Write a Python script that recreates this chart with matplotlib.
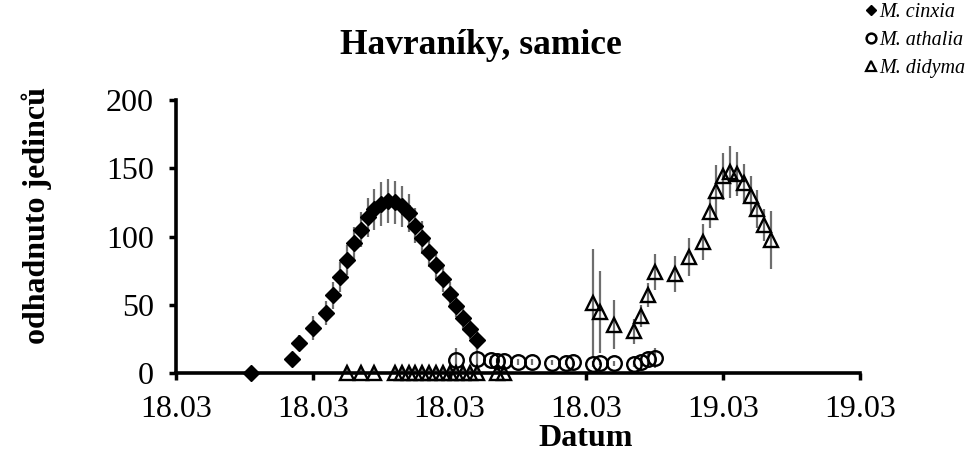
import matplotlib
matplotlib.use('Agg')
import matplotlib.pyplot as plt
from matplotlib.lines import Line2D

plt.rcParams['font.family'] = ['Liberation Serif', 'DejaVu Serif']

# days counted from the left end of the axis (one tick every 20 days)
cinxia_day = [11, 17, 18, 20, 22, 23, 24, 25, 26, 27, 28, 29, 30, 31, 32, 33, 34,
              35, 36, 37, 38, 39, 40, 41, 42, 43, 44]
cinxia_val = [0, 10, 22, 33, 44, 57, 70, 83, 95, 105, 114, 120, 124, 126, 125, 122, 117,
              108, 99, 89, 79, 69, 58, 49, 40, 32, 24]
cinxia_err = [0, 3, 6, 9, 9, 10, 11, 11, 12, 13, 14, 15, 16, 16, 16, 15, 14,
              13, 12, 11, 10, 10, 9, 8, 8, 7, 7]

athalia_day = [41, 44, 46, 47, 48, 50, 52, 55, 57, 58, 61, 62, 64, 67, 68, 69, 70]
athalia_val = [9.5, 10, 9.5, 9, 9, 8, 8, 7.5, 7.5, 8, 6.5, 7.5, 7, 6.5, 8, 10, 11]
athalia_err = [9, 9, 3, 2, 2, 2, 2, 2, 2, 2, 2, 2, 2, 2, 3, 5, 7]

didyma_day = [25, 27, 29, 32, 33, 34, 35, 36, 37, 38, 39, 40, 41, 42, 43, 44, 47, 48,
              61, 62, 64, 67, 68, 69, 70, 73, 75, 77, 78, 79, 80, 81, 82, 83, 84, 85, 86, 87]
didyma_val = [0, 0, 0, 0, 0, 0, 0, 0, 0, 0, 0, 0, 0, 0, 0, 0, 0, 0,
              51, 45, 35.5, 30.5, 42, 57, 74, 72.5, 85, 96, 118, 133.5, 144, 147.5, 146,
              139, 130, 120, 108.5, 97.5]
didyma_err = [5, 5, 5, 4, 4, 4, 4, 4, 4, 4, 4, 4, 4, 4, 4, 4, 4, 4,
              40, 30, 18, 9, 8, 9, 13, 13, 14, 13, 12, 19, 17, 19, 16, 14, 14, 14, 12, 21]

x_ticks = [0, 20, 40, 60, 80, 100]
x_labels = ['18.03', '18.03', '18.03', '18.03', '19.03', '19.03']
y_ticks = [0, 50, 100, 150, 200]

err_col = '#6e6e6e'

fig = plt.figure(figsize=(9.76, 4.62), dpi=100)
ax = fig.add_axes([176 / 976, 1 - 373 / 462, 684 / 976, 273 / 462])

# error bars first, markers on top
for d, v, e in [(cinxia_day, cinxia_val, cinxia_err),
                (athalia_day, athalia_val, athalia_err),
                (didyma_day, didyma_val, didyma_err)]:
    ax.errorbar(d, v, yerr=e, fmt='none', ecolor=err_col, elinewidth=1.6,
                capsize=0, zorder=2)

ax.plot(cinxia_day, cinxia_val, 'D', ms=8, color='black', mec='black',
        clip_on=False, zorder=4)
ax.plot(athalia_day, athalia_val, 'o', ms=10.5, mfc='none', mec='black', mew=1.7,
        clip_on=False, zorder=4)
ax.plot(didyma_day, didyma_val, '^', ms=10, mfc='none', mec='black', mew=1.7,
        clip_on=False, zorder=4)

ax.set_xlim(0, 100)
ax.set_ylim(0, 200)
ax.set_xticks(x_ticks)
ax.set_xticklabels(x_labels)
ax.set_yticks(y_ticks)
ax.tick_params(axis='both', labelsize=23, width=2.5, length=5, direction='out')
ax.tick_params(axis='y', pad=11)
ax.tick_params(axis='x', pad=11)
for s in ['top', 'right']:
    ax.spines[s].set_visible(False)
for s in ['left', 'bottom']:
    ax.spines[s].set_linewidth(2.6)
    ax.spines[s].set_zorder(3)

fig.text(481 / 976, 1 - 45 / 462, 'Havraníky, samice', ha='center', va='center',
         fontsize=25.5, fontweight='bold')
fig.text(586 / 976, 1 - 439 / 462, 'Datum', ha='center', va='center',
         fontsize=23, fontweight='bold')
fig.text(37 / 976, 1 - 215 / 462, 'odhadnuto jedinců', ha='center', va='center',
         rotation=90, fontsize=23, fontweight='bold')

handles = [Line2D([], [], ls='none', marker='D', ms=5, color='black'),
           Line2D([], [], ls='none', marker='o', ms=7, mfc='none', mec='black', mew=1.8),
           Line2D([], [], ls='none', marker='^', ms=7, mfc='none', mec='black', mew=1.6)]
labels = ['M. cinxia', 'M. athalia', 'M. didyma']
leg = fig.legend(handles, labels, loc='upper left', bbox_to_anchor=(857 / 976, 1.012),
                 frameon=False, handlelength=0.6, handletextpad=0.1, labelspacing=0.45,
                 borderaxespad=0.0, prop={'family': 'Liberation Serif', 'style': 'italic',
                                          'size': 14.5})

fig.savefig('out.png', dpi=100)
